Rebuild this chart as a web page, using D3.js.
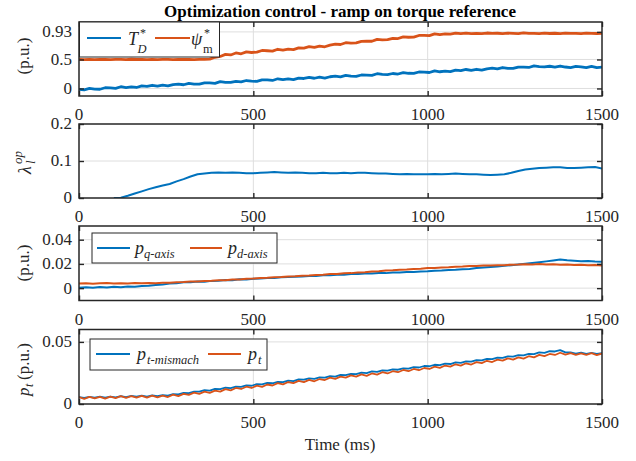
<!DOCTYPE html>
<html><head><meta charset="utf-8"><script src="https://cdn.jsdelivr.net/npm/d3@7"></script></head><body style="margin:0">
<svg id="c" width="636" height="461"></svg>
<script>
const title = "Optimization control - ramp on torque reference";
const xLabel = "Time (ms)";
const xTicks = [0, 500, 1000, 1500];
const xTickLabels = ["0", "500", "1000", "1500"];
const t15 = d3.range(0, 1501, 15);
const t20 = d3.range(0, 1501, 20);
const tLambda = d3.range(100, 1501, 20);

// Panel 1: T*_D and psi*_m (p.u.)
const torqueRef = [-0.015,-0.023,0.001,-0.010,-0.014,0.012,0.010,0.002,0.030,0.015,
0.027,0.017,0.043,0.036,0.055,0.039,0.059,0.043,0.066,0.076,
0.064,0.088,0.075,0.074,0.096,0.095,0.089,0.118,0.105,0.104,
0.121,0.113,0.137,0.126,0.123,0.148,0.147,0.138,0.167,0.151,
0.164,0.153,0.179,0.172,0.191,0.176,0.195,0.180,0.202,0.213,
0.200,0.225,0.211,0.210,0.232,0.231,0.226,0.254,0.242,0.240,
0.258,0.249,0.274,0.262,0.259,0.284,0.283,0.275,0.303,0.288,
0.300,0.290,0.315,0.309,0.327,0.312,0.331,0.316,0.339,0.349,
0.337,0.361,0.348,0.346,0.369,0.367,0.362,0.390,0.378,0.371,
0.383,0.368,0.387,0.370,0.361,0.380,0.373,0.359,0.382,0.360,
0.367];
const fluxRef = [0.502,0.497,0.501,0.498,0.503,0.499,0.496,0.502,0.500,0.497,
0.504,0.499,0.501,0.496,0.503,0.498,0.500,0.502,0.497,0.501,
0.499,0.503,0.498,0.500,0.502,0.505,0.538,0.552,0.588,0.578,
0.612,0.598,0.631,0.620,0.626,0.655,0.650,0.643,0.676,0.661,
0.678,0.670,0.700,0.697,0.720,0.707,0.731,0.719,0.748,0.765,
0.758,0.789,0.781,0.786,0.812,0.815,0.814,0.847,0.839,0.843,
0.865,0.861,0.890,0.883,0.884,0.914,0.917,0.912,0.942,0.930,
0.942,0.936,0.953,0.946,0.954,0.947,0.951,0.945,0.956,0.949,
0.952,0.946,0.953,0.950,0.947,0.958,0.949,0.951,0.946,0.953,
0.948,0.952,0.947,0.955,0.949,0.951,0.946,0.953,0.950,0.948,
0.952];
const yTicks1 = [0, 0.5, 0.975];
const yTickLabels1 = ["0", "0.5", "0.93"];

// Panel 2: lambda_l^op
const lambdaOp = [0.000,0.001,0.006,0.012,0.018,0.024,0.029,0.034,0.038,0.045,
0.051,0.058,0.064,0.066,0.068,0.069,0.068,0.069,0.068,0.067,
0.067,0.068,0.069,0.070,0.069,0.068,0.069,0.068,0.067,0.067,
0.068,0.067,0.067,0.068,0.067,0.068,0.068,0.067,0.066,0.066,
0.065,0.064,0.065,0.064,0.064,0.064,0.065,0.064,0.065,0.066,
0.065,0.064,0.064,0.063,0.062,0.063,0.064,0.068,0.073,0.077,
0.079,0.081,0.082,0.083,0.083,0.081,0.081,0.082,0.083,0.084,
0.080];
const yTicks2 = [0, 0.1, 0.2];
const yTickLabels2 = ["0", "0.1", "0.2"];

// Panel 3: p_q-axis and p_d-axis
const pQ = [0.0003,0.0008,0.0004,0.0009,0.0006,0.0011,0.0008,0.0013,0.0012,0.0017,
0.0019,0.0026,0.0031,0.0038,0.0041,0.0048,0.0049,0.0054,0.0053,0.0060,
0.0061,0.0067,0.0066,0.0073,0.0072,0.0078,0.0079,0.0084,0.0083,0.0090,
0.0091,0.0095,0.0097,0.0101,0.0100,0.0106,0.0106,0.0111,0.0110,0.0116,
0.0116,0.0120,0.0120,0.0125,0.0124,0.0129,0.0130,0.0133,0.0134,0.0138,
0.0139,0.0144,0.0145,0.0149,0.0151,0.0156,0.0159,0.0166,0.0170,0.0175,
0.0178,0.0184,0.0189,0.0195,0.0201,0.0208,0.0214,0.0221,0.0229,0.0237,
0.0230,0.0226,0.0223,0.0224,0.0220,0.0218];
const pD = [0.0038,0.0041,0.0037,0.0040,0.0042,0.0038,0.0041,0.0039,0.0043,0.0040,
0.0042,0.0041,0.0044,0.0045,0.0049,0.0050,0.0054,0.0055,0.0059,0.0061,
0.0065,0.0066,0.0071,0.0072,0.0077,0.0079,0.0083,0.0085,0.0089,0.0091,
0.0096,0.0098,0.0102,0.0104,0.0109,0.0111,0.0116,0.0117,0.0122,0.0124,
0.0129,0.0132,0.0137,0.0139,0.0145,0.0147,0.0152,0.0154,0.0159,0.0161,
0.0166,0.0167,0.0171,0.0172,0.0177,0.0178,0.0182,0.0182,0.0186,0.0186,
0.0190,0.0190,0.0194,0.0195,0.0198,0.0196,0.0199,0.0195,0.0197,0.0193,
0.0196,0.0191,0.0194,0.0189,0.0192,0.0187];
const yTicks3 = [0, 0.02, 0.04];
const yTickLabels3 = ["0", "0.02", "0.04"];

// Panel 4: p_t-mismach and p_t
const ptMismatch = [0.0056,0.0049,0.0058,0.0052,0.0059,0.0052,0.0060,0.0054,0.0063,0.0056,
0.0065,0.0059,0.0067,0.0060,0.0069,0.0063,0.0072,0.0067,0.0080,0.0078,
0.0090,0.0088,0.0100,0.0099,0.0111,0.0108,0.0121,0.0119,0.0131,0.0128,
0.0140,0.0138,0.0150,0.0147,0.0160,0.0158,0.0170,0.0167,0.0178,0.0176,
0.0189,0.0185,0.0198,0.0196,0.0207,0.0203,0.0214,0.0212,0.0224,0.0221,
0.0234,0.0232,0.0243,0.0240,0.0252,0.0249,0.0262,0.0258,0.0270,0.0268,
0.0279,0.0276,0.0287,0.0285,0.0297,0.0294,0.0306,0.0304,0.0316,0.0313,
0.0325,0.0322,0.0335,0.0331,0.0344,0.0342,0.0354,0.0351,0.0363,0.0361,
0.0374,0.0371,0.0384,0.0382,0.0394,0.0391,0.0404,0.0402,0.0415,0.0412,
0.0425,0.0423,0.0434,0.0416,0.0415,0.0406,0.0413,0.0404,0.0411,0.0403,
0.0409];
const pt = [0.0055,0.0042,0.0058,0.0045,0.0058,0.0044,0.0059,0.0047,0.0063,0.0049,
0.0063,0.0051,0.0066,0.0052,0.0067,0.0053,0.0067,0.0056,0.0075,0.0064,
0.0082,0.0074,0.0092,0.0082,0.0100,0.0090,0.0108,0.0100,0.0120,0.0110,
0.0129,0.0121,0.0139,0.0129,0.0148,0.0138,0.0157,0.0149,0.0168,0.0158,
0.0177,0.0168,0.0186,0.0176,0.0194,0.0183,0.0201,0.0193,0.0212,0.0202,
0.0220,0.0212,0.0230,0.0220,0.0238,0.0227,0.0246,0.0237,0.0256,0.0246,
0.0264,0.0256,0.0274,0.0264,0.0282,0.0272,0.0290,0.0282,0.0301,0.0291,
0.0310,0.0301,0.0320,0.0309,0.0328,0.0318,0.0337,0.0329,0.0348,0.0338,
0.0357,0.0349,0.0368,0.0357,0.0376,0.0366,0.0385,0.0376,0.0396,0.0385,
0.0403,0.0395,0.0413,0.0397,0.0410,0.0395,0.0408,0.0395,0.0409,0.0394,
0.0407];
const yTicks4 = [0, 0.05];
const yTickLabels4 = ["0", "0.05"];

const BLUE = "#0072BD", ORANGE = "#D95319";
const INK = "#262626";
const X0 = 79, X1 = 602;

const panels = [
  {top: 22, bottom: 96, domain: [-0.13, 1.146], ticks: yTicks1, labels: yTickLabels1,
   series: [{t: t15, v: torqueRef, c: BLUE, w: 2.8}, {t: t15, v: fluxRef, c: ORANGE, w: 2.8}]},
  {top: 124, bottom: 198, domain: [0, 0.2], ticks: yTicks2, labels: yTickLabels2,
   series: [{t: tLambda, v: lambdaOp, c: BLUE, w: 2}]},
  {top: 226, bottom: 300.5, domain: [-0.0102, 0.0513], ticks: yTicks3, labels: yTickLabels3,
   series: [{t: t20, v: pQ, c: BLUE, w: 2}, {t: t20, v: pD, c: ORANGE, w: 2}]},
  {top: 329.5, bottom: 404, domain: [0, 0.06], ticks: yTicks4, labels: yTickLabels4,
   series: [{t: t15, v: ptMismatch, c: BLUE, w: 1.8}, {t: t15, v: pt, c: ORANGE, w: 1.8}]}
];

const svg = d3.select("#c");
const x = d3.scaleLinear().domain([0, 1500]).range([X0, X1]);

// every text gets an explicit inline style with a single serif family
function label(parent, px, opts) {
  const st = "font-family: 'Liberation Serif'; font-size: " + px + "px;" +
    (opts && opts.italic ? " font-style: italic;" : "") + (opts && opts.bold ? " font-weight: bold;" : "");
  return parent.append("text").attr("style", st).attr("fill", (opts && opts.fill) || INK);
}

// titles first
label(svg, 17, {bold: true, fill: "#000"}).attr("x", 340).attr("y", 17).attr("text-anchor", "middle").text(title);
label(svg, 17).attr("x", 340).attr("y", 450).attr("text-anchor", "middle").text(xLabel);

function rotLabel(cx, cy) {
  return svg.append("g").attr("transform", `translate(${cx},${cy}) rotate(-90)`);
}
label(rotLabel(29, 56), 17).attr("text-anchor", "middle").text("(p.u.)");
label(rotLabel(29, 263), 17).attr("text-anchor", "middle").text("(p.u.)");
{
  const g = rotLabel(31, 160);
  label(g, 18, {italic: true}).attr("x", -14).attr("y", 0).text("λ");
  label(g, 13, {italic: true}).attr("x", -4).attr("y", -9).text("op");
  label(g, 13, {italic: true}).attr("x", -4).attr("y", 4).text("l");
}
{
  const g = rotLabel(29, 364);
  label(g, 17, {italic: true}).attr("x", -32).attr("y", 0).text("p");
  label(g, 12, {italic: true}).attr("x", -23).attr("y", 4).text("t");
  label(g, 17).attr("x", -16).attr("y", 0).text("(p.u.)");
}

panels.forEach((p, pi) => {
  const y = d3.scaleLinear().domain(p.domain).range([p.bottom, p.top]);
  const g = svg.append("g");
  g.selectAll("line.gx").data(xTicks.filter(d => d > 0 && d < 1500)).join("line")
    .attr("class", "gx").attr("x1", d => x(d)).attr("x2", d => x(d))
    .attr("y1", p.top).attr("y2", p.bottom).attr("stroke", "#dedede").attr("stroke-width", 1);
  g.selectAll("line.gy").data(p.ticks.filter(d => y(d) > p.top + 1 && y(d) < p.bottom - 1)).join("line")
    .attr("class", "gy").attr("y1", d => y(d)).attr("y2", d => y(d))
    .attr("x1", X0).attr("x2", X1).attr("stroke", "#dedede").attr("stroke-width", 1);
  const lg = g.append("svg").attr("x", X0).attr("y", p.top)
    .attr("width", X1 - X0).attr("height", p.bottom - p.top)
    .attr("viewBox", `${X0} ${p.top} ${X1 - X0} ${p.bottom - p.top}`);
  p.series.forEach(s => {
    const line = d3.line().x((d, i) => x(s.t[i])).y(d => y(d));
    lg.append("path").datum(s.v).attr("d", line).attr("fill", "none")
      .attr("stroke", s.c).attr("stroke-width", s.w).attr("stroke-linejoin", "round");
  });
  // tick marks (inward) via axis generators, labels drawn as styled text
  const ax = [
    [d3.axisBottom(x).tickValues(xTicks), `translate(0,${p.bottom})`],
    [d3.axisTop(x).tickValues(xTicks), `translate(0,${p.top})`],
    [d3.axisLeft(y).tickValues(p.ticks), `translate(${X0},0)`],
    [d3.axisRight(y).tickValues(p.ticks), `translate(${X1},0)`]
  ];
  ax.forEach(([a, tr]) => {
    const ag = g.append("g").attr("transform", tr)
      .call(a.tickSizeInner(-5).tickSizeOuter(0).tickFormat(() => ""));
    ag.select(".domain").remove();
    ag.selectAll(".tick text").remove();
    ag.attr("font-family", null).attr("font-size", null);
    ag.selectAll(".tick line").attr("stroke", INK).attr("stroke-width", 1.4);
  });
  g.selectAll("text.xl").data(xTicks).join(enter => enter.append("text"))
    .attr("class", "xl")
    .attr("style", "font-family: 'Liberation Serif'; font-size: 17px;").attr("fill", INK)
    .attr("x", d => x(d)).attr("y", p.bottom + 24).attr("text-anchor", "middle")
    .text((d, i) => xTickLabels[i]);
  g.selectAll("text.yl").data(p.ticks).join(enter => enter.append("text"))
    .attr("class", "yl")
    .attr("style", "font-family: 'Liberation Serif'; font-size: 17px;").attr("fill", INK)
    .attr("x", X0 - 7).attr("y", d => y(d)).attr("dy", "0.32em").attr("text-anchor", "end")
    .text((d, i) => p.labels[i]);
  g.append("rect").attr("x", X0).attr("y", p.top).attr("width", X1 - X0).attr("height", p.bottom - p.top)
    .attr("fill", "none").attr("stroke", INK).attr("stroke-width", 1.5);
});

function legendBox(x0, y0, w, h) {
  svg.append("rect").attr("x", x0).attr("y", y0).attr("width", w).attr("height", h)
    .attr("fill", "#fff").attr("stroke", INK).attr("stroke-width", 1);
}
function legLine(x0, x1, yy, c) {
  svg.append("line").attr("x1", x0).attr("x2", x1).attr("y1", yy).attr("y2", yy)
    .attr("stroke", c).attr("stroke-width", 2);
}
function txt(xx, yy, s, size, italic) {
  label(svg, size, {italic: italic}).attr("x", xx).attr("y", yy).text(s);
}
legendBox(79.5, 22, 140, 35);
legLine(87, 121, 38, BLUE);
txt(128, 45, "T", 18, true); txt(140, 37, "*", 12, false); txt(137.5, 53, "D", 12.5, true);
legLine(155, 190, 38, ORANGE);
txt(191, 45, "ψ", 18, true); txt(204, 37, "*", 12, false); txt(203, 53, "m", 12.5, false);
legendBox(92, 233, 185, 30);
legLine(97, 130, 248, BLUE);
txt(135, 254, "p", 18, true); txt(144, 258, "q-axis", 12.5, true);
legLine(190, 222, 248, ORANGE);
txt(228, 254, "p", 18, true); txt(237, 258, "d-axis", 12.5, true);
legendBox(90, 339, 177, 31);
legLine(96, 130, 354, BLUE);
txt(137, 360, "p", 18, true); txt(147, 364, "t-mismach", 12.5, true);
legLine(208, 241, 354, ORANGE);
txt(248, 360, "p", 18, true); txt(258, 364, "t", 12.5, true);
</script></body></html>
